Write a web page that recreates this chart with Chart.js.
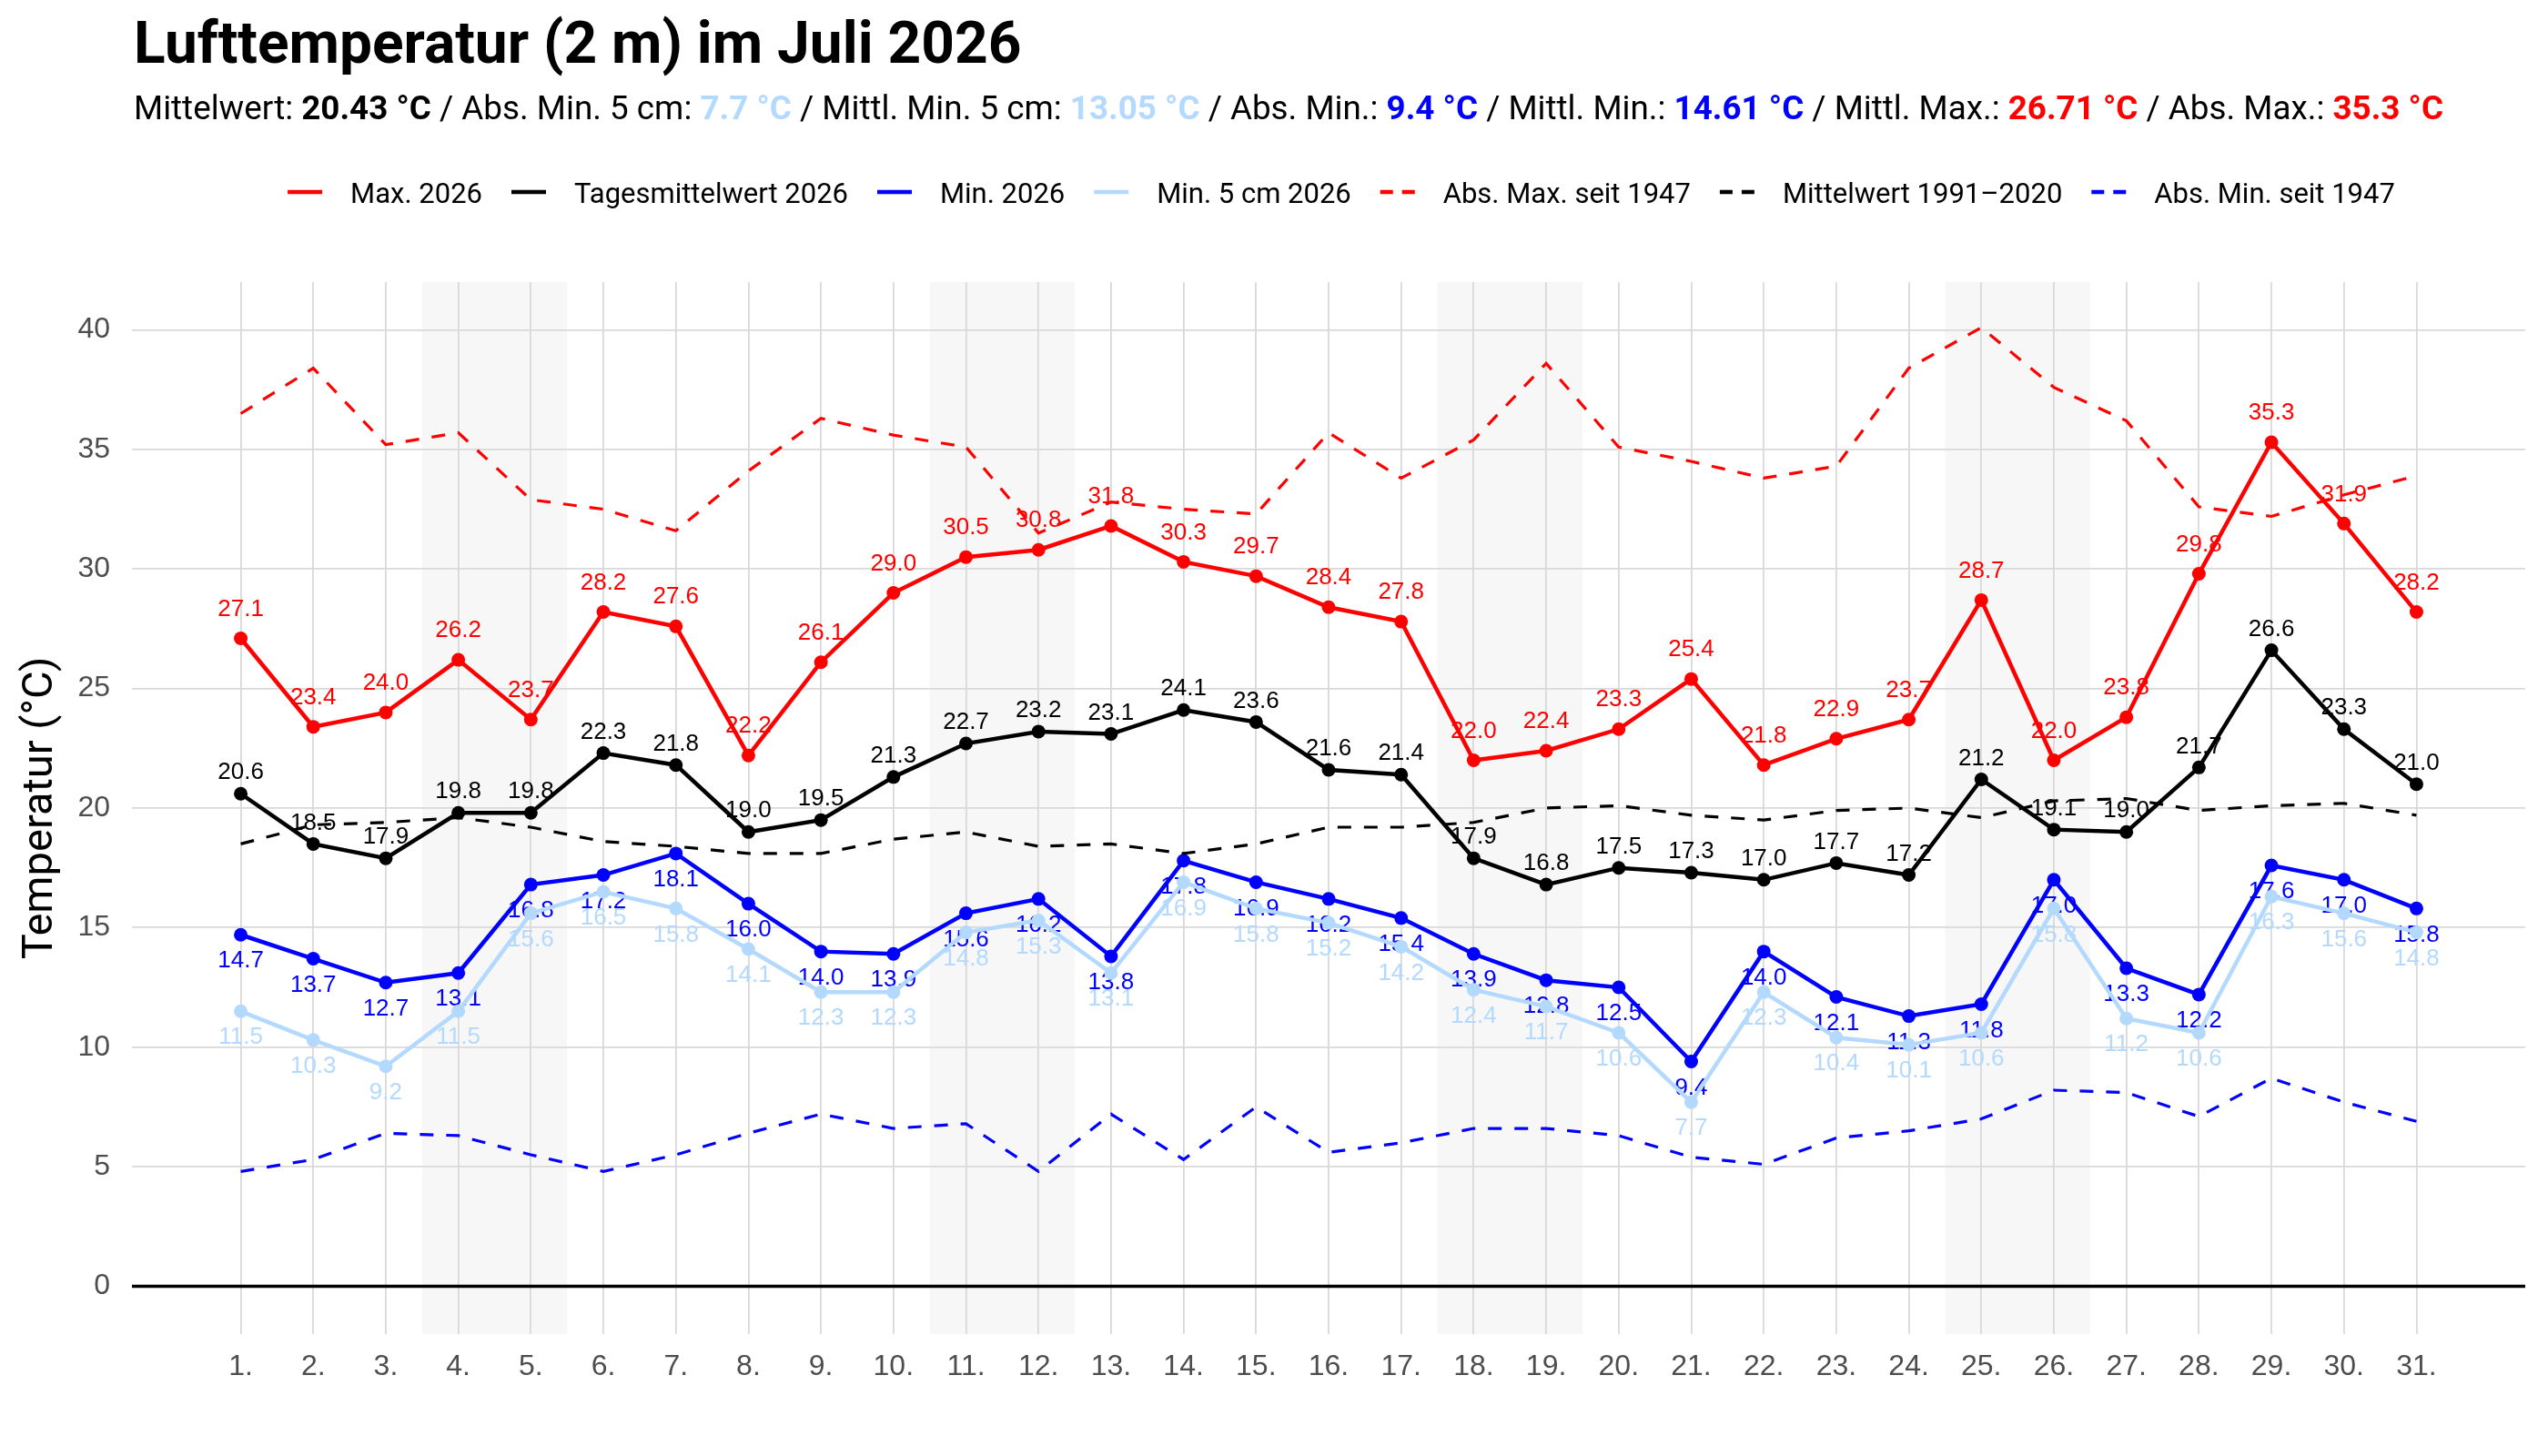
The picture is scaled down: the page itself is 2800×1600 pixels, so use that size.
<!DOCTYPE html>
<html lang="de">
<head>
<meta charset="utf-8">
<title>Lufttemperatur (2 m) im Juli 2026</title>
<script src="https://cdn.jsdelivr.net/npm/chart.js@4.4.1/dist/chart.umd.min.js"></script>
<style>
  html, body { margin: 0; padding: 0; background: #fff; }
  #wrap { position: relative; width: 2800px; height: 1600px; }
</style>
</head>
<body>
<div id="wrap"><canvas id="chart"></canvas></div>
<script>
// Tage im Juli
const days = [1, 2, 3, 4, 5, 6, 7, 8, 9, 10, 11, 12, 13, 14, 15, 16, 17, 18, 19, 20, 21, 22, 23, 24, 25, 26, 27, 28, 29, 30, 31];

// Werte 2026
const max2026 = [27.1, 23.4, 24.0, 26.2, 23.7, 28.2, 27.6, 22.2, 26.1, 29.0, 30.5, 30.8, 31.8, 30.3, 29.7, 28.4, 27.8, 22.0, 22.4, 23.3, 25.4, 21.8, 22.9, 23.7, 28.7, 22.0, 23.8, 29.8, 35.3, 31.9, 28.2];
const mean2026 = [20.6, 18.5, 17.9, 19.8, 19.8, 22.3, 21.8, 19.0, 19.5, 21.3, 22.7, 23.2, 23.1, 24.1, 23.6, 21.6, 21.4, 17.9, 16.8, 17.5, 17.3, 17.0, 17.7, 17.2, 21.2, 19.1, 19.0, 21.7, 26.6, 23.3, 21.0];
const min2026 = [14.7, 13.7, 12.7, 13.1, 16.8, 17.2, 18.1, 16.0, 14.0, 13.9, 15.6, 16.2, 13.8, 17.8, 16.9, 16.2, 15.4, 13.9, 12.8, 12.5, 9.4, 14.0, 12.1, 11.3, 11.8, 17.0, 13.3, 12.2, 17.6, 17.0, 15.8];
const min5cm2026 = [11.5, 10.3, 9.2, 11.5, 15.6, 16.5, 15.8, 14.1, 12.3, 12.3, 14.8, 15.3, 13.1, 16.9, 15.8, 15.2, 14.2, 12.4, 11.7, 10.6, 7.7, 12.3, 10.4, 10.1, 10.6, 15.8, 11.2, 10.6, 16.3, 15.6, 14.8];

// Referenzwerte
const absMax1947 = [36.5, 38.4, 35.2, 35.7, 32.9, 32.5, 31.6, 34.1, 36.3, 35.6, 35.1, 31.5, 32.8, 32.5, 32.3, 35.7, 33.8, 35.4, 38.6, 35.1, 34.5, 33.8, 34.3, 38.4, 40.1, 37.6, 36.2, 32.6, 32.2, 33.1, 33.9];
const mean9120 = [18.5, 19.3, 19.4, 19.6, 19.2, 18.6, 18.4, 18.1, 18.1, 18.7, 19.0, 18.4, 18.5, 18.1, 18.5, 19.2, 19.2, 19.4, 20.0, 20.1, 19.7, 19.5, 19.9, 20.0, 19.6, 20.3, 20.4, 19.9, 20.1, 20.2, 19.7];
const absMin1947 = [4.8, 5.3, 6.4, 6.3, 5.5, 4.8, 5.5, 6.4, 7.2, 6.6, 6.8, 4.8, 7.2, 5.3, 7.5, 5.6, 6.0, 6.6, 6.6, 6.3, 5.4, 5.1, 6.2, 6.5, 7.0, 8.2, 8.1, 7.1, 8.7, 7.7, 6.9];

// Wochenenden (Sa/So)
const weekends = [[4, 5], [11, 12], [18, 19], [25, 26]];

const RED = '#ff0000';
const BLUE = '#0000ff';
const LIGHT = '#b3d9ff';

const titleText = 'Lufttemperatur (2 m) im Juli 2026';
const subtitleParts = [
    ['Mittelwert: ', '#000', false],
    ['20.43 °C', '#000', true],
    [' / Abs. Min. 5 cm: ', '#000', false],
    ['7.7 °C', LIGHT, true],
    [' / Mittl. Min. 5 cm: ', '#000', false],
    ['13.05 °C', LIGHT, true],
    [' / Abs. Min.: ', '#000', false],
    ['9.4 °C', BLUE, true],
    [' / Mittl. Min.: ', '#000', false],
    ['14.61 °C', BLUE, true],
    [' / Mittl. Max.: ', '#000', false],
    ['26.71 °C', RED, true],
    [' / Abs. Max.: ', '#000', false],
    ['35.3 °C', RED, true]
];

function points(values) {
    return values.map((v, i) => ({ x: days[i], y: v }));
}

function solidLine(label, values, color, side, offset, order) {
    return {
        label: label,
        data: points(values),
        borderColor: color,
        backgroundColor: color,
        borderWidth: 4.5,
        pointRadius: 7.5,
        pointHoverRadius: 7.5,
        pointBorderWidth: 0,
        order: order,
        labelSide: side,
        labelOffset: offset
    };
}

function dashedLine(label, values, color, order) {
    return {
        label: label,
        data: points(values),
        borderColor: color,
        backgroundColor: color,
        borderWidth: 3.2,
        borderDash: [15, 14],
        pointRadius: 0,
        pointHoverRadius: 0,
        order: order,
        dashedKey: true
    };
}

// Hintergrund + Wochenenden
const bandPlugin = {
    id: 'bands',
    beforeDraw(chart) {
        const ctx = chart.ctx;
        const area = chart.chartArea;
        const x = chart.scales.x;
        ctx.save();
        ctx.fillStyle = '#fff';
        ctx.fillRect(0, 0, chart.width, chart.height);
        ctx.fillStyle = '#f7f7f7';
        weekends.forEach(w => {
            const x0 = x.getPixelForValue(w[0] - 0.5);
            const x1 = x.getPixelForValue(w[1] + 0.5);
            ctx.fillRect(x0, area.top, x1 - x0, area.bottom - area.top);
        });
        ctx.restore();
    },
    beforeDatasetsDraw(chart) {
        // Nulllinie
        const ctx = chart.ctx;
        const area = chart.chartArea;
        const y0 = chart.scales.y.getPixelForValue(0);
        ctx.save();
        ctx.strokeStyle = '#000';
        ctx.lineWidth = 3.5;
        ctx.beginPath();
        ctx.moveTo(area.left, y0);
        ctx.lineTo(area.right, y0);
        ctx.stroke();
        ctx.restore();
    }
};

// Werte an den Punkten
const labelPlugin = {
    id: 'pointLabels',
    afterDatasetDraw(chart, args) {
        const ds = chart.data.datasets[args.index];
        if (!ds.labelSide) return;
        const ctx = chart.ctx;
        ctx.save();
        ctx.font = '26px "Liberation Sans", Arial, sans-serif';
        ctx.fillStyle = ds.borderColor;
        ctx.textAlign = 'center';
        ctx.textBaseline = 'middle';
        args.meta.data.forEach((pt, i) => {
            const dy = ds.labelSide === 'above' ? -ds.labelOffset : ds.labelOffset;
            ctx.fillText(ds.data[i].y.toFixed(1), pt.x, pt.y + dy);
        });
        ctx.restore();
    }
};

// Titel, Untertitel, Legende
const headerPlugin = {
    id: 'header',
    afterDraw(chart) {
        const ctx = chart.ctx;
        ctx.save();
        ctx.textBaseline = 'alphabetic';
        ctx.textAlign = 'left';
        ctx.fillStyle = '#000';
        ctx.font = 'bold 64px Roboto';
        ctx.fillText(titleText, 147, 69);

        let x = 147;
        subtitleParts.forEach(p => {
            ctx.font = (p[2] ? 'bold ' : '') + '36.8px Roboto';
            ctx.fillStyle = p[1];
            ctx.fillText(p[0], x, 131);
            x += ctx.measureText(p[0]).width;
        });

        // Legende
        const keyW = 38, keyGap = 31, itemGap = 32, legendY = 211;
        ctx.font = '31px Roboto';
        const items = chart.data.datasets.map(ds => ({
            text: ds.label,
            w: ctx.measureText(ds.label).width,
            color: ds.borderColor,
            dashed: !!ds.dashedKey
        }));
        let total = 0;
        items.forEach(it => { total += keyW + keyGap + it.w; });
        total += itemGap * (items.length - 1);
        x = 1474 - total / 2;
        items.forEach(it => {
            ctx.strokeStyle = it.color;
            ctx.lineWidth = 4.5;
            ctx.setLineDash(it.dashed ? [14, 10] : []);
            ctx.beginPath();
            ctx.moveTo(x, legendY);
            ctx.lineTo(x + keyW, legendY);
            ctx.stroke();
            ctx.fillStyle = '#000';
            ctx.fillText(it.text, x + keyW + keyGap, 223);
            x += keyW + keyGap + it.w + itemGap;
        });
        ctx.restore();
    }
};

const ctx = document.getElementById('chart').getContext('2d');
const chart = new Chart(ctx, {
    type: 'line',
    data: {
        datasets: [
            solidLine('Max. 2026', max2026, RED, 'above', 32, 7),
            solidLine('Tagesmittelwert 2026', mean2026, '#000', 'above', 23, 6),
            solidLine('Min. 2026', min2026, BLUE, 'below', 29, 5),
            solidLine('Min. 5 cm 2026', min5cm2026, LIGHT, 'below', 29, 4),
            dashedLine('Abs. Max. seit 1947', absMax1947, RED, 3),
            dashedLine('Mittelwert 1991–2020', mean9120, '#000', 2),
            dashedLine('Abs. Min. seit 1947', absMin1947, BLUE, 1)
        ]
    },
    options: {
        responsive: true,
        maintainAspectRatio: false,
        animation: false,
        layout: { padding: { top: 310, right: 25, bottom: 0, left: 0 } },
        plugins: {
            legend: { display: false },
            tooltip: { enabled: false }
        },
        scales: {
            x: {
                type: 'linear',
                min: -0.5,
                max: 32.5,
                afterBuildTicks: axis => { axis.ticks = days.map(d => ({ value: d })); },
                afterFit: s => { s.height = 134; },
                grid: { color: '#d9d9d9', lineWidth: 1.8, drawTicks: false },
                border: { display: false },
                ticks: {
                    autoSkip: false,
                    maxRotation: 0,
                    padding: 17,
                    color: '#4d4d4d',
                    font: { family: '"Liberation Sans", Arial, sans-serif', size: 32 },
                    callback: v => v + '.'
                }
            },
            y: {
                min: -2,
                max: 42,
                afterFit: s => { s.width = 145; },
                grid: { color: '#d9d9d9', lineWidth: 1.8, drawTicks: false },
                border: { display: false },
                ticks: {
                    stepSize: 5,
                    includeBounds: false,
                    padding: 24,
                    color: '#4d4d4d',
                    font: { family: '"Liberation Sans", Arial, sans-serif', size: 32 }
                },
                title: {
                    display: true,
                    text: 'Temperatur (°C)',
                    color: '#000',
                    font: { family: 'Roboto', size: 47 },
                    padding: { top: 17, bottom: 0 }
                }
            }
        }
    },
    plugins: [bandPlugin, labelPlugin, headerPlugin]
});
</script>
</body>
</html>
